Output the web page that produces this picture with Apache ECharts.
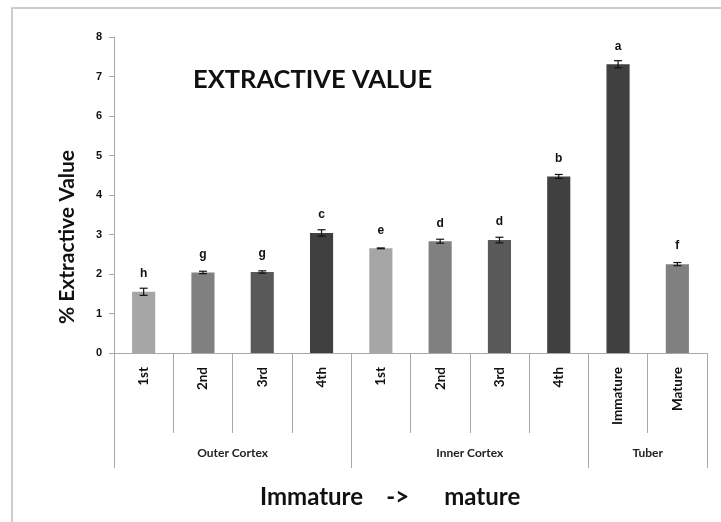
<!DOCTYPE html>
<html>
<head>
<meta charset="utf-8">
<script src="https://cdn.jsdelivr.net/npm/echarts@6/dist/echarts.min.js"></script>
<style>
  html, body { margin: 0; padding: 0; background: #fff; }
  #chart { width: 721px; height: 522px; }
</style>
</head>
<body>
<div id="chart"></div>
<script>
// Extractive value (%) by tissue position, immature -> mature
const categories = ['1st', '2nd', '3rd', '4th', '1st', '2nd', '3rd', '4th', 'Immature', 'Mature'];
const values     = [1.55, 2.04, 2.05, 3.04, 2.65, 2.83, 2.86, 4.47, 7.31, 2.25];
const errors     = [0.09, 0.03, 0.03, 0.08, 0.01, 0.05, 0.07, 0.05, 0.09, 0.04];
const letters    = ['h', 'g', 'g', 'c', 'e', 'd', 'd', 'b', 'a', 'f'];
const barColors  = ['#a6a6a6', '#808080', '#595959', '#404040', '#a6a6a6', '#808080', '#595959', '#404040', '#404040', '#808080'];

// Group spans along the category axis (in category units)
const groupNames     = ['Outer Cortex', 'Inner Cortex', 'Tuber'];
const groupBounds    = [0, 4, 8, 10];
const groupCentres   = [2, 6, 9];
const yTicks         = [0, 1, 2, 3, 4, 5, 6, 7, 8];

const chart = echarts.init(document.getElementById('chart'));

const axisGray = '#a8a8a8';

const option = {
  animation: false,
  backgroundColor: '#ffffff',
  graphic: [{
    type: 'rect',
    shape: { x: 12, y: 8, width: 760, height: 560 },
    style: { fill: 'none', stroke: '#bdbdbd', lineWidth: 1.5 },
    silent: true
  }],
  title: [{
    text: 'EXTRACTIVE VALUE',
    left: 188, top: 62,
    textStyle: { fontFamily: 'Lato', fontWeight: 'bold', fontSize: 25.5, color: '#111' }
  }, {
    text: 'Immature    ->      mature',
    left: 255, top: 480,
    textStyle: { fontFamily: 'Lato', fontWeight: 'bold', fontSize: 24, color: '#111' }
  }],
  grid: { left: 114, right: 14, top: 37, bottom: 169, containLabel: false },
  xAxis: [{
    type: 'category',
    data: categories,
    axisLine: { show: true, lineStyle: { color: axisGray, width: 1 } },
    axisTick: { show: true, interval: 0, length: 80, lineStyle: { color: axisGray } },
    axisLabel: {
      interval: 0, rotate: 90, margin: 14,
      fontFamily: 'Lato', fontWeight: 'bold', fontSize: 13.5, color: '#111'
    },
    splitLine: { show: false }
  }, {
    type: 'value',
    min: 0, max: 10,
    position: 'bottom',
    axisLine: { show: false },
    axisTick: {
      show: true, length: 115, customValues: groupBounds,
      lineStyle: { color: axisGray }
    },
    axisLabel: {
      show: true, margin: 94, customValues: groupCentres,
      formatter: v => groupNames[groupCentres.indexOf(v)] || '',
      fontFamily: 'Lato', fontWeight: 'bold', fontSize: 12, color: '#222'
    },
    splitLine: { show: false }
  }],
  yAxis: {
    type: 'value',
    min: yTicks[0], max: yTicks[yTicks.length - 1], interval: 1,
    name: '% Extractive Value',
    nameLocation: 'middle',
    nameGap: 36,
    nameTextStyle: {
      fontFamily: 'Lato', fontWeight: 'bold', fontSize: 21, color: '#111',
      padding: [0, 84, 0, 0]
    },
    axisLine: { show: true, lineStyle: { color: axisGray } },
    axisTick: { show: true, length: 5, lineStyle: { color: axisGray } },
    axisLabel: {
      margin: 12,
      fontFamily: 'Liberation Sans', fontWeight: 'bold', fontSize: 11, color: '#111'
    },
    splitLine: { show: false }
  },
  series: [{
    type: 'bar',
    xAxisIndex: 0,
    barWidth: '39%',
    data: values.map((v, i) => ({ value: v, itemStyle: { color: barColors[i] } })),
    label: {
      show: true, position: 'top', distance: 12,
      formatter: p => letters[p.dataIndex],
      fontFamily: 'Liberation Sans', fontWeight: 'bold', fontSize: 12, color: '#111'
    }
  }, {
    type: 'custom',
    xAxisIndex: 0,
    data: values.map((v, i) => [i, v - errors[i], v + errors[i]]),
    renderItem: (params, api) => {
      const lo = api.coord([api.value(0), api.value(1)]);
      const hi = api.coord([api.value(0), api.value(2)]);
      const cap = 4;
      const st = { stroke: '#111', lineWidth: 1.2 };
      return {
        type: 'group',
        children: [
          { type: 'line', shape: { x1: hi[0], y1: hi[1], x2: lo[0], y2: lo[1] }, style: st },
          { type: 'line', shape: { x1: hi[0] - cap, y1: hi[1], x2: hi[0] + cap, y2: hi[1] }, style: st },
          { type: 'line', shape: { x1: lo[0] - cap, y1: lo[1], x2: lo[0] + cap, y2: lo[1] }, style: st }
        ]
      };
    },
    z: 5
  }]
};

chart.setOption(option);
</script>
</body>
</html>
